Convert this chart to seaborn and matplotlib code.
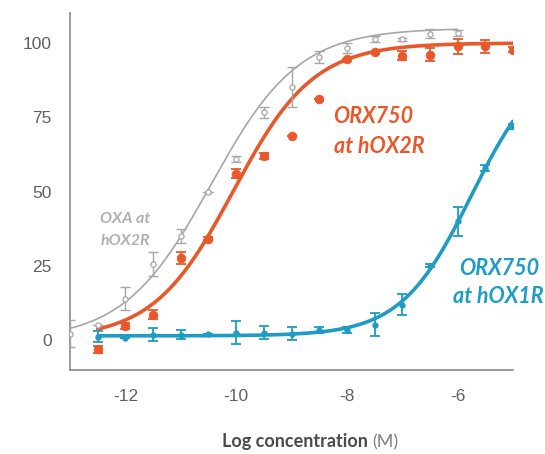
import numpy as np
import pandas as pd
import matplotlib
matplotlib.use("Agg")
import matplotlib.pyplot as plt
import seaborn as sns

# ---- data ----
oxa_x = [-13.0, -12.5, -12.0, -11.5, -11.0, -10.5, -10.0, -9.5, -9.0, -8.5,
         -8.0, -7.5, -7.0, -6.5, -6.0]
oxa_y = [2.2, 5.3, 14.0, 25.7, 35.0, 49.8, 61.0, 76.7, 85.3, 95.3,
         98.4, 101.4, 101.2, 103.2, 103.4]
oxa_err = [4.5, 0.0, 3.8, 4.0, 2.4, 0.0, 1.0, 1.9, 6.8, 2.0,
           1.7, 1.1, 0.6, 1.4, 1.1]

ox2_x = [-12.5, -12.0, -11.5, -11.0, -10.5, -10.0, -9.5, -9.0, -8.5,
         -8.0, -7.5, -7.0, -6.5, -6.0, -5.5, -5.0]
ox2_y = [-3.1, 4.9, 8.6, 27.8, 34.1, 56.1, 62.1, 68.6, 81.2,
         94.7, 97.0, 95.8, 96.1, 98.9, 98.9, 97.8]
ox2_err = [1.1, 1.0, 1.5, 2.0, 0.5, 1.5, 1.0, 0.0, 0.0,
           0.0, 0.0, 1.4, 2.1, 2.5, 2.1, 0.8]

ox1_x = [-12.5, -12.0, -11.5, -11.0, -10.5, -10.0, -9.5, -9.0, -8.5,
         -8.0, -7.5, -7.0, -6.5, -6.0, -5.5, -5.0]
ox1_y = [1.2, 0.6, 1.9, 1.9, 2.2, 2.6, 2.6, 2.2, 3.3,
         3.6, 5.3, 12.0, 25.1, 40.0, 57.8, 72.0]
ox1_err = [1.8, 0.0, 2.2, 1.5, 0.0, 4.0, 2.1, 2.2, 1.0,
           1.0, 4.0, 3.5, 0.5, 5.0, 1.0, 0.8]

# fitted 4-parameter logistic curves: (bottom, top, logEC50, hill, x-range)
oxa_fit = (0.0, 105.0, -10.45, 0.55, (-13.0, -6.0))
ox2_fit = (0.5, 100.0, -10.05, 0.60, (-12.5, -5.0))
ox1_fit = (1.5, 96.0, -5.75, 0.68, (-12.5, -5.0))

x_ticks = [-12, -10, -8, -6]
y_ticks = [0, 25, 50, 75, 100]

C_GRAY = "#a6a6a6"
C_ORANGE = "#e8582a"
C_BLUE = "#1e9cc4"


def four_pl(x, b, t, e, h):
    return b + (t - b) / (1.0 + 10 ** ((e - x) * h))


def curve_frame(fit, n=300):
    b, t, e, h, (lo, hi) = fit
    xs = np.linspace(lo, hi, n)
    return pd.DataFrame({"x": xs, "y": four_pl(xs, b, t, e, h)})


sns.set_theme(style="white")
plt.rcParams["font.family"] = ["Liberation Sans", "DejaVu Sans"]

fig = plt.figure(figsize=(5.45, 4.54), dpi=100)
ax = fig.add_axes([70 / 545, 1 - 370 / 454, (513 - 70) / 545, (370 - 13.3) / 454])

# curves
sns.lineplot(data=curve_frame(oxa_fit), x="x", y="y", ax=ax, color=C_GRAY, lw=1.2)
sns.lineplot(data=curve_frame(ox2_fit), x="x", y="y", ax=ax, color=C_ORANGE, lw=2.6)
sns.lineplot(data=curve_frame(ox1_fit), x="x", y="y", ax=ax, color=C_BLUE, lw=2.6)

# error bars
ax.errorbar(oxa_x, oxa_y, yerr=oxa_err, fmt="none", ecolor=C_GRAY, elinewidth=1.0,
            capsize=3.5, capthick=1.0, zorder=3)
ax.errorbar(ox2_x, ox2_y, yerr=ox2_err, fmt="none", ecolor=C_ORANGE, elinewidth=1.3,
            capsize=3.8, capthick=1.3, zorder=3)
ax.errorbar(ox1_x, ox1_y, yerr=ox1_err, fmt="none", ecolor=C_BLUE, elinewidth=1.3,
            capsize=3.8, capthick=1.3, zorder=3)

# points
sns.scatterplot(x=oxa_x, y=oxa_y, ax=ax, s=14, marker="o", facecolor="white",
                edgecolor=C_GRAY, linewidth=0.9, zorder=4)
sns.scatterplot(x=ox2_x, y=ox2_y, ax=ax, s=40, marker="o", color=C_ORANGE,
                edgecolor=C_ORANGE, linewidth=0.5, zorder=4)
sns.scatterplot(x=ox1_x, y=ox1_y, ax=ax, s=16, marker="o", color=C_BLUE,
                edgecolor=C_BLUE, linewidth=0.5, zorder=4)

ax.set_xlim(-13, -5)
ax.set_ylim(-10, 110)
ax.set_xticks(x_ticks)
ax.set_xticklabels([str(v) for v in x_ticks])
ax.set_yticks(y_ticks)
ax.set_yticklabels([str(v) for v in y_ticks])
ax.set_xlabel("")
ax.set_ylabel("")

for side in ("top", "right"):
    ax.spines[side].set_visible(False)
for side in ("left", "bottom"):
    ax.spines[side].set_color("#8a8a8a")
    ax.spines[side].set_linewidth(1.2)
ax.tick_params(axis="both", direction="out", length=10, width=1.0, color="#8a8a8a",
               labelsize=12.5, labelcolor="#606060", pad=3)
ax.tick_params(axis="x", length=8.5, pad=5)

# annotations
lab_font = ["Lato", "DejaVu Sans"]
ax.text(-12.45, 39.5, "OXA at", color="#b0b0b0", fontsize=11.5, fontweight="bold",
        fontstyle="italic", family=lab_font, va="baseline", ha="left")
ax.text(-12.45, 32.2, "hOX2R", color="#b0b0b0", fontsize=11.5, fontweight="bold",
        fontstyle="italic", family=lab_font, va="baseline", ha="left")
ax.text(-8.24, 73.0, "ORX750", color=C_ORANGE, fontsize=15.5, fontweight="bold",
        fontstyle="italic", family=lab_font, va="baseline", ha="left")
ax.text(-8.24, 63.0, "at hOX2R", color=C_ORANGE, fontsize=15.5, fontweight="bold",
        fontstyle="italic", family=lab_font, va="baseline", ha="left")
ax.text(-5.97, 22.1, "ORX750", color=C_BLUE, fontsize=15.5, fontweight="bold",
        fontstyle="italic", family=lab_font, va="baseline", ha="left")
ax.text(-6.08, 12.5, "at hOX1R", color=C_BLUE, fontsize=15.5, fontweight="bold",
        fontstyle="italic", family=lab_font, va="baseline", ha="left")

# x-axis label: bold part + normal unit
t1 = fig.text(222 / 545, 1 - 447 / 454, "Log concentration", fontsize=13,
              fontweight="bold", color="#4a4a4a", family=lab_font, va="baseline", ha="left")
fig.canvas.draw()
bb = t1.get_window_extent()
fig.text(bb.x1 / fig.bbox.width + 4 / 545, 1 - 447 / 454, "(M)", fontsize=13,
         color="#808080", family=lab_font, va="baseline", ha="left")

fig.savefig("out.png", dpi=100)
